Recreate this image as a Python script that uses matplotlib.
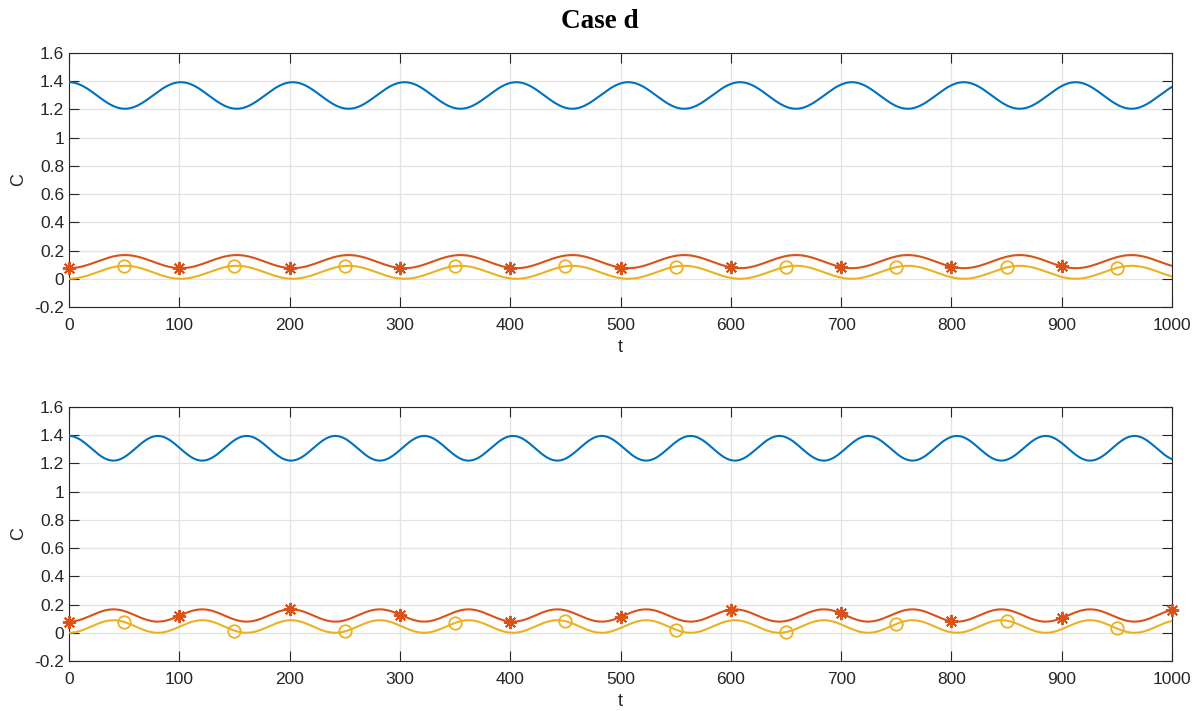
import numpy as np
import matplotlib
matplotlib.use("Agg")
import matplotlib.pyplot as plt

# ---- data (per panel: top, bottom) ----
t_start, t_end = 0, 1000
periods = [101.4, 80.5]          # oscillation period of each panel
blue_max = [1.393, 1.395]
blue_min = [1.205, 1.22]
red_max = [0.168, 0.166]
red_min = [0.075, 0.079]
yellow_max = [0.092, 0.089]
yellow_min = [0.0, 0.0]
red_marker_t = [list(range(0, 1000, 100)), list(range(0, 1001, 100))]
yellow_marker_t = [list(range(50, 1000, 100)), list(range(50, 1000, 100))]

xticks = list(range(0, 1001, 100))
yticks = [-0.2, 0, 0.2, 0.4, 0.6, 0.8, 1.0, 1.2, 1.4, 1.6]
ytick_labels = ["-0.2", "0", "0.2", "0.4", "0.6", "0.8", "1", "1.2", "1.4", "1.6"]
title = "Case d"

C_BLUE = (0, 0.447, 0.741)
C_RED = (0.850, 0.325, 0.098)
C_YEL = (0.929, 0.694, 0.125)
TXT = "#262626"

plt.rcParams["font.family"] = ["Liberation Sans", "DejaVu Sans"]

fig = plt.figure(figsize=(11.99, 7.11), dpi=100)
left, width = 69 / 1199, (1172 - 69) / 1199
ax_top = fig.add_axes([left, 1 - 307 / 711, width, 254 / 711])
ax_bot = fig.add_axes([left, 1 - 661 / 711, width, 254 / 711])


def wave(t, P, hi, lo, start_high):
    mid, amp = (hi + lo) / 2, (hi - lo) / 2
    c = np.cos(2 * np.pi * t / P)
    return mid + amp * c if start_high else mid - amp * c


t = np.linspace(t_start, t_end, 4001)
asterisk = (8, 2, 0)

for i, ax in enumerate([ax_top, ax_bot]):
    P = periods[i]
    yb = wave(t, P, blue_max[i], blue_min[i], True)
    yr = wave(t, P, red_max[i], red_min[i], False)
    yy = wave(t, P, yellow_max[i], yellow_min[i], False)
    ax.plot(t, yb, color=C_BLUE, lw=1.5, zorder=3)
    ax.plot(t, yr, color=C_RED, lw=1.5, zorder=3)
    ax.plot(t, yy, color=C_YEL, lw=1.5, zorder=3)
    rm = np.array(red_marker_t[i], dtype=float)
    ym = np.array(yellow_marker_t[i], dtype=float)
    ax.plot(rm, wave(rm, P, red_max[i], red_min[i], False), ls="none",
            marker=asterisk, ms=9.5, mew=1.4, color=C_RED, zorder=4, clip_on=False)
    ax.plot(ym, wave(ym, P, yellow_max[i], yellow_min[i], False), ls="none",
            marker="o", ms=9, mew=1.3, mfc="none", mec=C_YEL, zorder=4, clip_on=False)

    ax.set_xlim(0, 1000)
    ax.set_ylim(-0.2, 1.6)
    ax.set_xticks(xticks)
    ax.set_yticks(yticks)
    ax.set_yticklabels(ytick_labels)
    ax.grid(True, color="#e3e3e3", lw=0.9, zorder=0)
    ax.set_axisbelow(True)
    ax.tick_params(direction="in", length=7.5, width=0.8, top=True, right=True,
                   labelsize=12.5, colors=TXT)
    ax.tick_params(axis="x", pad=8)
    ax.tick_params(axis="y", pad=3.5)
    for s in ax.spines.values():
        s.set_color(TXT)
        s.set_linewidth(0.8)
    ax.set_xlabel("t", fontsize=13, color=TXT, labelpad=4)
    ax.set_ylabel("C", fontsize=13, color=TXT, labelpad=5)

fig.text(0.5, 1 - 21 / 711, title, ha="center", va="center",
         fontsize=19.5, fontweight="bold", family=["Liberation Serif", "DejaVu Serif"])

fig.savefig("out.png", dpi=100)
